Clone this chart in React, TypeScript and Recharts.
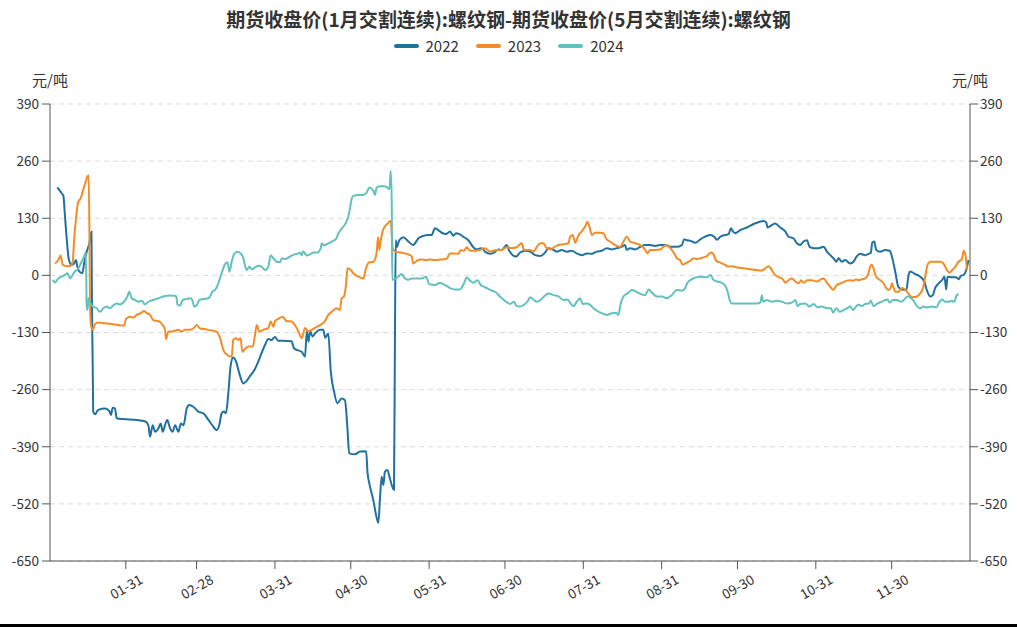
import React from "react";
import { LineChart, Line, XAxis, YAxis, CartesianGrid } from "recharts";

const TITLE = "期货收盘价(1月交割连续):螺纹钢-期货收盘价(5月交割连续):螺纹钢";
const UNIT = "元/吨";
const seriesNames = ["2022", "2023", "2024"];
const seriesColors = ["#21719f", "#f28c28", "#62c1bf"];

// x = day of year (0 = 01-01), y = spread value
const tickDays = [30, 58, 89, 119, 150, 180, 211, 242, 272, 303, 333];
const tickLabels = ["01-31", "02-28", "03-31", "04-30", "05-31", "06-30", "07-31", "08-31", "09-30", "10-31", "11-30"];
const yTicks = [-650, -520, -390, -260, -130, 0, 130, 260, 390];

const s2022: [number, number][] = [
  [2.9,200],[4.6,187],[5.3,181],[5.9,137],[6.6,84],[7.5,35],[8.6,24],[9.5,27],[10.3,35],[10.8,20],[11.9,7],[12.8,5],[13.6,31],[14.5,54],[15.6,73],[16.4,99],[16.6,-67],[16.9,-204],[17.1,-310],[17.8,-316],[19.1,-306],[21.8,-303],[23.5,-309],[24.1,-318],[24.8,-301],[25.7,-303],[26.4,-325],[29,-327],[34.3,-329],[37.6,-332],[38.9,-341],[39.6,-367],[40.6,-341],[41.6,-356],[42.9,-348],[43.8,-337],[44.6,-356],[45.5,-341],[46.4,-329],[47.5,-348],[48.5,-356],[49.5,-341],[50.8,-356],[51.8,-337],[52.8,-341],[54.1,-303],[55.1,-295],[56.7,-299],[58.7,-310],[60.7,-314],[62.7,-329],[64.6,-344],[65.9,-352],[67,-340],[67.9,-314],[68.8,-310],[69.6,-314],[70.6,-265],[71.5,-204],[72.5,-187],[73.6,-196],[74.9,-223],[76.5,-246],[77.8,-240],[79.4,-227],[81.1,-213],[82.4,-196],[83.7,-177],[85.1,-158],[86.4,-145],[87.7,-147],[89,-140],[90.3,-149],[92.3,-149],[95.6,-150],[96.5,-166],[97.9,-170],[99.6,-174],[100.9,-185],[101.6,-128],[102.3,-151],[102.9,-126],[103.8,-139],[104.9,-132],[106.8,-124],[108.1,-124],[108.9,-142],[110.1,-132],[111.1,-219],[112.4,-265],[113.7,-291],[115.4,-280],[116.7,-284],[117.6,-341],[118.4,-405],[120.7,-407],[122.7,-401],[125.1,-400],[125.6,-447],[126.4,-475],[127.9,-511],[129,-545],[129.9,-563],[130.6,-504],[131.2,-458],[131.9,-477],[132.5,-447],[133.5,-443],[134.3,-458],[135.2,-477],[136.1,-488],[136.5,-117],[136.8,80],[137.2,65],[138.2,80],[139.8,87],[141.8,77],[143.7,69],[145.7,84],[147.7,90],[149.7,92],[151,92],[152.3,107],[153.6,103],[155,97],[156.7,94],[158.3,100],[159.6,90],[160.6,96],[162,94],[163.5,88],[165.5,80],[167.5,64],[168.8,59],[170.8,62],[172.1,54],[174.1,49],[175.7,52],[177.4,59],[178.7,58],[180.7,69],[181.7,56],[183.1,46],[184.4,43],[186,52],[188,56],[190,54],[192,46],[194,44],[195.9,52],[197.2,62],[199.2,58],[200.5,54],[202.5,58],[204.5,54],[206.4,56],[208.4,50],[210.4,46],[212.4,50],[214.4,49],[216.3,54],[218.3,56],[220.3,62],[222.3,59],[224.2,62],[226.2,65],[227.5,69],[228.2,58],[229.5,62],[231.5,59],[233.5,65],[235.5,69],[237.4,69],[239.4,67],[241.4,69],[243.4,69],[245.4,65],[248,65],[250,69],[250.9,82],[252,80],[253.3,79],[255.3,74],[257.3,82],[259.2,88],[261.2,92],[262.8,88],[263.9,81],[265.2,88],[267.1,92],[268.5,94],[269.4,107],[270.2,100],[271.1,96],[273.1,103],[275.7,109],[278.4,117],[280.3,121],[282.3,124],[283.4,120],[283.9,109],[284.9,112],[286.9,118],[288.9,109],[290.9,100],[292.2,88],[294.2,84],[295.5,73],[296.8,69],[298.1,77],[299.5,80],[300.5,65],[302.1,62],[304.1,62],[306.1,65],[307.4,54],[308.7,46],[310,39],[311.1,31],[312,39],[313.3,31],[314.6,35],[316.6,27],[317.9,31],[319.2,43],[320.6,49],[322.5,46],[323.9,49],[324.8,52],[325.3,74],[326.1,77],[326.9,58],[328.5,54],[330.4,58],[332.2,56],[333.1,43],[334.4,9],[335.7,-27],[337.1,-32],[338.8,-33],[339.7,1],[340.3,9],[342.3,3],[344.3,-3],[345.9,-14],[347,-35],[348.3,-48],[349.3,-45],[350.2,-29],[351.6,-18],[352.9,-11],[353.9,-3],[354.6,-32],[355.1,-3],[356.8,-4],[358.5,-4],[359.5,-9],[360.4,-1],[361.5,1],[362.5,12],[363.4,35]
];

const s2023: [number, number][] = [
  [2,27],[3.3,35],[4.2,45],[5,24],[6.6,21],[8.2,22],[9,31],[9.5,77],[10.3,130],[11.2,168],[12.1,175],[12.9,190],[13.9,209],[14.8,225],[15.3,228],[15.6,99],[15.8,-52],[16.2,-113],[16.9,-124],[17.8,-111],[19.1,-107],[21.8,-109],[25.1,-111],[28.4,-114],[29.3,-114],[30.1,-99],[31.7,-94],[33,-96],[34.3,-90],[35.9,-86],[37.2,-81],[38.3,-86],[39.6,-90],[40.9,-102],[42.9,-104],[44.6,-113],[45.5,-124],[45.9,-145],[46.8,-128],[48.8,-127],[50.8,-124],[52.1,-128],[53.4,-124],[55.4,-124],[57,-119],[58,-113],[59.4,-121],[60.9,-122],[62.7,-124],[65.9,-128],[67.3,-143],[68.6,-170],[69.9,-180],[71.9,-185],[72.5,-147],[73.6,-143],[74.5,-147],[75.4,-143],[76.1,-174],[77.1,-168],[78.5,-162],[80.2,-162],[81.1,-136],[81.8,-113],[82.8,-128],[84.4,-124],[86.4,-120],[87.3,-105],[88.4,-117],[89,-104],[90.3,-99],[92.1,-94],[93.6,-104],[95.6,-105],[96.9,-113],[98.3,-128],[99.6,-143],[100.9,-120],[102.2,-127],[103.5,-124],[105.5,-117],[107.5,-111],[108.8,-104],[110.1,-90],[111.5,-83],[113.4,-75],[114.7,-79],[115.4,-52],[116.3,-48],[117.1,-22],[117.7,16],[118.7,14],[120,5],[122,-3],[124,-7],[125,16],[126.4,30],[127.9,31],[129.2,50],[129.8,87],[130.3,58],[130.8,77],[131.6,100],[132.5,111],[133.9,120],[134.8,124],[135.6,62],[136.5,54],[138.5,52],[140.4,50],[142.4,46],[143.1,43],[143.7,27],[145.1,33],[147,36],[149,35],[150.3,36],[152.3,35],[154.3,36],[156.9,38],[158.3,50],[160.2,50],[161.6,49],[162.5,58],[163.8,56],[164.9,64],[166.2,56],[168.2,56],[170.1,58],[172.1,62],[174.1,54],[176.7,58],[178.7,58],[180.7,64],[182.7,62],[184.6,64],[186.6,73],[187.5,58],[188.6,58],[190,58],[191.3,54],[192.6,65],[194,73],[195.2,73],[196.5,62],[198.1,59],[199.4,64],[201.2,69],[203.1,71],[205.1,73],[205.8,88],[206.8,92],[207.8,74],[209.1,92],[210.4,100],[211.7,111],[212.6,122],[213.4,111],[214.4,92],[215.7,97],[217.6,97],[219,96],[220,84],[221.6,77],[223.6,69],[225.6,65],[226.9,77],[228.2,88],[229.5,77],[231.5,73],[233.5,69],[235.5,58],[236.4,50],[237.4,58],[239.4,58],[241.4,59],[242.7,65],[244,69],[245.4,62],[247,50],[248,39],[249.3,35],[250.4,24],[251.3,27],[253.3,33],[254.6,39],[255.9,37],[257.3,39],[258.6,41],[259.9,44],[261.5,52],[262.3,50],[263.6,33],[265.2,29],[267.1,24],[268.5,20],[269.8,21],[271.8,18],[274.4,16],[277,14],[279.7,12],[281.7,11],[283,16],[284.3,21],[285.6,12],[286.9,1],[288.3,-4],[290,-9],[290.9,-17],[292.2,-11],[293.5,-7],[294.9,-14],[296.2,-18],[297.2,-11],[298.4,-17],[299.5,-11],[301.4,-11],[303.4,-14],[305,-9],[306.1,-7],[307.4,-17],[308.7,-26],[310,-33],[310.7,-27],[311.3,-22],[313.3,-17],[315.3,-12],[316.6,-11],[317.9,-12],[319,-9],[319.9,-11],[321.2,-9],[322.5,-7],[323.9,6],[324.5,20],[325.2,24],[325.8,16],[326.9,-3],[328.5,-11],[329.8,-18],[330.8,-29],[331.8,-33],[332.7,-27],[333.1,-18],[333.7,-26],[334.4,-37],[335.7,-37],[337.1,-29],[338.8,-35],[340.1,-45],[341.4,-50],[343,-48],[344.3,-41],[345.4,-29],[346.3,-3],[347.2,24],[348.3,31],[350.2,31],[352.2,31],[353.5,27],[354.9,12],[355.9,6],[356.8,11],[358.2,20],[359.5,31],[360.8,37],[361.5,56],[362.2,46],[362.8,12]
];

const s2024: [number, number][] = [
  [1.1,-10],[2,-16],[3.3,-7],[4.6,-3],[5.9,1],[6.9,5],[7.9,-7],[9,1],[9.9,10],[10.8,12],[11.6,20],[12.5,31],[13.5,43],[14.2,52],[14.5,-68],[14.8,-79],[15.3,-52],[15.8,-60],[16.5,-68],[17.1,-71],[18.5,-75],[19.8,-83],[21.1,-75],[22.4,-71],[23.7,-75],[25.1,-68],[26.4,-64],[27.7,-66],[29.3,-60],[30.6,-48],[31.4,-37],[32.3,-52],[33.6,-56],[35,-60],[36.3,-58],[37.6,-66],[38.9,-60],[40.9,-56],[42.9,-52],[44.8,-48],[47.5,-46],[49.9,-47],[50.4,-66],[51.4,-69],[52.5,-56],[54.1,-54],[55.7,-52],[56.5,-60],[57,-71],[58,-68],[59.1,-56],[60.7,-54],[62.7,-52],[63.3,-48],[64.4,-36],[65.3,-33],[66.6,-18],[67.9,5],[69.2,25],[70.2,30],[71,8],[71.9,31],[72.8,48],[74.1,54],[75.4,50],[76.5,39],[77.1,24],[77.8,12],[78.9,20],[79.8,14],[81.1,18],[82.4,22],[83.7,20],[85.1,12],[86.4,20],[87.3,45],[88.4,39],[89.7,31],[91,30],[91.7,39],[93,37],[95,43],[96.9,48],[98.3,50],[98.9,52],[99.6,46],[100.2,55],[101.6,45],[102.9,48],[104.2,52],[105.8,52],[107.1,62],[107.5,73],[108.4,68],[110.1,73],[111.8,78],[113.2,83],[114.1,96],[115.4,106],[116.7,116],[118,134],[118.7,153],[119.4,175],[120,181],[122,183],[124,183],[125.3,189],[126.4,200],[127.9,193],[128.6,183],[129.2,200],[130.6,203],[132.1,203],[133.5,200],[134.3,196],[134.8,238],[135.2,172],[135.4,-10],[136.1,-9],[137.8,-3],[139.1,3],[140.5,-7],[141.8,-10],[143.1,-7],[145.1,-7],[147,-7],[148.8,-3],[150.1,-20],[152.3,-22],[154.3,-17],[156.3,-22],[158.3,-29],[160.2,-32],[162.2,-32],[163.8,-18],[164.9,-5],[166.2,-12],[167.5,-17],[169.1,-11],[170.4,-22],[172.1,-27],[174.1,-33],[176.5,-39],[178,-48],[180,-58],[182,-65],[183.6,-60],[184.6,-70],[186,-71],[187.5,-67],[188.9,-60],[190,-50],[191.3,-55],[192.6,-60],[194,-56],[195.5,-48],[197.2,-41],[199.2,-45],[201.2,-48],[203.1,-56],[204.7,-55],[206,-64],[207.1,-70],[208.4,-60],[209.7,-52],[210.8,-65],[212.1,-64],[213.7,-67],[215,-75],[216.3,-80],[218.3,-86],[220.3,-90],[222.3,-86],[224,-85],[224.9,-90],[225.8,-64],[226.9,-48],[228.5,-41],[230.2,-33],[231.9,-37],[233.5,-42],[235.5,-45],[236.8,-32],[238.1,-39],[240.1,-48],[242.1,-48],[244,-52],[246,-45],[248,-33],[250,-35],[251.3,-29],[252.2,-17],[253.3,-11],[254.6,-7],[255.9,-4],[257.9,-3],[259.9,-4],[261.5,1],[262.3,-9],[263.9,-14],[265.8,-17],[267.2,-24],[268.1,-37],[268.9,-56],[269.8,-64],[271.8,-64],[274.4,-64],[277,-64],[279.7,-64],[281,-62],[281.7,-45],[282.1,-60],[283.6,-56],[285.6,-60],[287.6,-58],[289.6,-60],[291.6,-64],[293.5,-62],[294.9,-56],[295.8,-70],[296.8,-65],[298.8,-64],[300.5,-71],[302.1,-65],[303.7,-73],[305.4,-71],[307.4,-75],[309,-75],[309.8,-85],[311.1,-75],[312.4,-83],[314,-79],[315.3,-75],[316.6,-70],[317.7,-79],[318.6,-73],[319.9,-67],[321.2,-70],[322.5,-65],[323.9,-64],[324.8,-58],[325.8,-70],[327.4,-64],[329.1,-60],[330.4,-56],[331.4,-55],[332.2,-62],[333.5,-56],[335.1,-56],[336.7,-60],[338,-55],[339.3,-48],[340.3,-50],[341.7,-58],[343,-70],[344.3,-75],[345.6,-71],[346.9,-73],[348.9,-71],[350.6,-73],[352,-60],[352.9,-55],[354.2,-60],[355.5,-60],[356.8,-58],[357.8,-60],[358.6,-47],[359.5,-42]
];

const allSeries = [s2022, s2023, s2024];

const FONT = "'Noto Sans CJK SC', 'Noto Sans', sans-serif";
const TEXT = "#333";

const toRows = (s: [number, number][]) => s.map(([d, v]) => ({ d, v }));

const XTick = (props: any) => {
  const { x, y, payload } = props;
  const idx = tickDays.indexOf(payload.value);
  const label = idx >= 0 ? tickLabels[idx] : "";
  return (
    <g transform={`translate(${x},${y + 15}) rotate(-30)`}>
      <text textAnchor="middle" dominantBaseline="central" fontSize={13.5} fill={TEXT} fontFamily={FONT}>
        {label}
      </text>
    </g>
  );
};

export default function App() {
  return (
    <div style={{ position: "absolute", left: 0, top: 0, width: 1017, height: 627, background: "#fff", fontFamily: FONT }}>
      <div style={{ position: "absolute", top: 5, left: 0, width: 1017, textAlign: "center", fontSize: 19, fontWeight: 700, color: TEXT, lineHeight: "28px" }}>
        {TITLE}
      </div>
      <div style={{ position: "absolute", top: 36, left: 0, width: 1017, display: "flex", justifyContent: "center", alignItems: "center", gap: 17 }}>
        {seriesNames.map((n, i) => (
          <div key={n} style={{ display: "flex", alignItems: "center" }}>
            <div style={{ width: 25, height: 4, borderRadius: 2, background: seriesColors[i], marginRight: 7 }} />
            <span style={{ fontSize: 15, color: TEXT, lineHeight: "20px" }}>{n}</span>
          </div>
        ))}
      </div>
      <div style={{ position: "absolute", top: 69, left: 20, width: 60, textAlign: "center", fontSize: 15, color: TEXT, lineHeight: "22px" }}>{UNIT}</div>
      <div style={{ position: "absolute", top: 69, left: 940, width: 60, textAlign: "center", fontSize: 15, color: TEXT, lineHeight: "22px" }}>{UNIT}</div>
      <div style={{ position: "absolute", top: 0, left: 0 }}>
        <LineChart width={1017} height={627} margin={{ top: 104, right: 0, bottom: 6, left: 0 }}>
          <CartesianGrid yAxisId="left" vertical={false} stroke="#dcdcdc" strokeDasharray="5 4" />
          <XAxis
            dataKey="d"
            type="number"
            domain={[0, 364]}
            ticks={tickDays}
            interval={0}
            tick={<XTick />}
            tickSize={8}
            height={60}
            stroke="#555"
            allowDataOverflow
          />
          <YAxis
            yAxisId="left"
            orientation="left"
            width={50}
            domain={[-650, 390]}
            ticks={yTicks}
            interval={0}
            tickSize={8}
            tickMargin={3}
            stroke="#555"
            tick={{ fontSize: 13.5, fill: TEXT, fontFamily: FONT }}
            allowDataOverflow
          />
          <YAxis
            yAxisId="right"
            orientation="right"
            width={47}
            domain={[-650, 390]}
            ticks={yTicks}
            interval={0}
            tickSize={8}
            tickMargin={2}
            stroke="#555"
            tick={{ fontSize: 13.5, fill: TEXT, fontFamily: FONT }}
            allowDataOverflow
          />
          {allSeries.map((s, i) => (
            <Line
              key={seriesNames[i]}
              yAxisId="left"
              data={toRows(s)}
              dataKey="v"
              name={seriesNames[i]}
              type="monotone"
              stroke={seriesColors[i]}
              strokeWidth={2}
              dot={false}
              activeDot={false}
              isAnimationActive={false}
            />
          ))}
        </LineChart>
      </div>
      <div style={{ position: "absolute", left: 0, top: 624, width: 1017, height: 3, background: "#000" }} />
    </div>
  );
}
